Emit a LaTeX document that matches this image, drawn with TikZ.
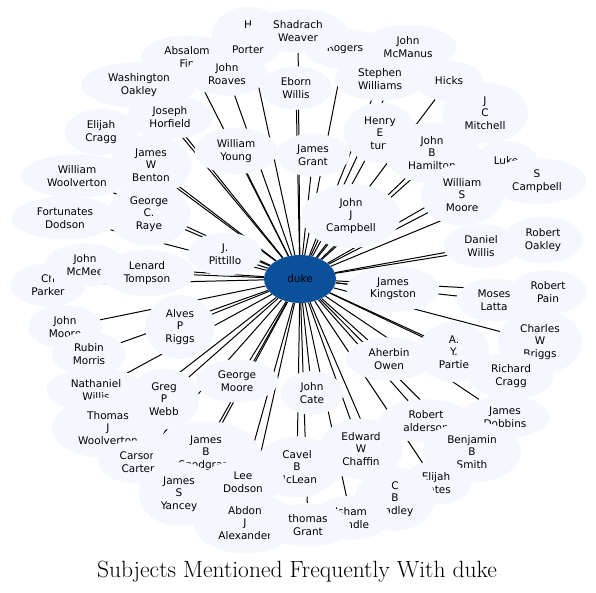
\documentclass[tikz,border=0pt]{standalone}
\usepackage{fontspec}
\usepackage{tikz}
\usetikzlibrary{shapes.geometric, backgrounds}
\newfontfamily\namefont{DejaVu Sans}
\definecolor{namefill}{RGB}{244,248,254}
\definecolor{dukeblue}{RGB}{11,80,155}

\begin{document}
\begin{tikzpicture}[x=1pt, y=-1pt]
    % Define styles for the nodes
    \tikzstyle{person} = [
        ellipse, fill=namefill, align=center, inner xsep=10pt,
        inner ysep=5pt, minimum width=60pt, minimum height=40pt,
        font=\namefont\fontsize{10.5}{12.5}\selectfont
    ]
    \tikzstyle{hub} = [
        ellipse, fill=dukeblue, minimum width=72pt, minimum height=48pt,
        font=\namefont\fontsize{10.5}{12.5}\selectfont
    ]
    \tikzstyle{link} = [line width=1pt, black]

    \useasboundingbox (0,0) rectangle (596,593);

    % Outer ring, top
    \node[person] (hporter) at (248,37) {H\\\mbox{}\\Porter};
    \node[person] (mcmanus) at (408,47) {John\\McManus};
    \node[person] (rogers) at (345,49) {Rogers};
    \node[person] (shadrach) at (298,31) {Shadrach\\Weaver};
    \node[person] (absalom) at (187,57) {Absalom\\Fin};
    \node[person] (washington) at (139,85) {Washington\\Oakley};
    \node[person] (roaves) at (227,74) {John\\Roaves};
    \node[person] (eborn) at (296,88) {Eborn\\Willis};
    \node[person] (hicks) at (449,81) {Hicks};
    \node[person] (stephen) at (380,79) {Stephen\\Williams};
    \node[person] (mitchell) at (485,113) {J\\C\\Mitchell};
    \node[person] (elijahcragg) at (101,132) {Elijah\\Cragg};
    \node[person] (joseph) at (170,117) {Joseph\\Horfield};
    \node[person] (henry) at (380,133) {Henry\\E\\turr};

    % Left side
    \node[person] (wwoolverton) at (77,176) {William\\Woolverton};
    \node[person] (benton) at (151,165) {James\\W\\Benton};
    \node[person] (wyoung) at (236,151) {William\\Young};
    \node[person] (jgrant) at (313,155) {James\\Grant};
    \node[person] (fortunates) at (65,218) {Fortunates\\Dodson};
    \node[person] (raye) at (149,214) {George\\C.\\Raye};
    \node[person] (parker) at (48,285) {Ch\\Parker};
    \node[person] (mcmee) at (85,265) {John\\McMee};
    \node[person] (tompson) at (147,273) {Lenard\\Tompson};
    \node[person] (pittillo) at (225,254) {J.\\Pittillo};
    \node[person] (jmoore) at (65,327) {John\\Moore};
    \node[person] (riggs) at (180,327) {Alves\\P\\Riggs};
    \node[person] (rmorris) at (89,354) {Rubin\\Morris};
    \node[person] (nwillis) at (96,390) {Nathaniel\\Willis};
    \node[person] (twoolverton) at (108,428) {Thomas\\J\\Woolverton};
    \node[person] (webb) at (164,399) {Greg\\P\\Webb};

    % Right side
    \node[person] (luke) at (506,161) {Luke};
    \node[person] (scampbell) at (537,181) {S\\Campbell};
    \node[person] (hamilton) at (432,153) {John\\B\\Hamilton};
    \node[person] (wsmoore) at (462,195) {William\\S\\Moore};
    \node[person] (jjcampbell) at (351,216) {John\\J\\Campbell};
    \node[person] (roakley) at (543,240) {Robert\\Oakley};
    \node[person] (dwillis) at (481,246) {Daniel\\Willis};
    \node[person] (rpain) at (548,292) {Robert\\Pain};
    \node[person] (latta) at (494,300) {Moses\\Latta};
    \node[person] (kingston) at (393,289) {James\\Kingston};
    \node[person] (briggs) at (540,342) {Charles\\W\\Briggs};
    \node[person] (partie) at (454,352) {A.\\Y.\\Partie};
    \node[person] (owen) at (389,359) {Aherbin\\Owen};
    \node[person] (rcragg) at (511,376) {Richard\\Cragg};
    \node[person] (dobbins) at (505,417) {James\\Dobbins};

    % Bottom
    \node[person] (gmoore) at (237,381) {George\\Moore};
    \node[person] (cate) at (312,393) {John\\Cate};
    \node[person] (alderson) at (426,421) {Robert\\alderson};
    \node[person] (smith) at (472,452) {Benjamin\\B\\Smith};
    \node[person] (chaffin) at (361,449) {Edward\\W\\Chaffin};
    \node[person] (carter) at (138,462) {Carson\\Carter};
    \node[person] (snodgrass) at (206,453) {James\\B\\Snodgrass};
    \node[person] (mclean) at (297,467) {Cavel\\B\\McLean};
    \node[person] (cates) at (436,483) {Elijah\\Cates};
    \node[person] (dodson) at (243,482) {Lee\\Dodson};
    \node[person] (yancey) at (179,494) {James\\S\\Yancey};
    \node[person] (dley) at (395,499) {C\\B\\Hadley};
    \node[person] (isham) at (351,518) {Isham\\Randle};
    \node[person] (alexander) at (245,523) {Abdon\\J\\Alexander};
    \node[person] (tgrant) at (308,525) {thomas\\Grant};

    % Hub
    \node[hub] (duke) at (300,279) {duke};

    % Links from the hub
    \begin{scope}[on background layer]
    \draw[link] (duke) -- (hporter);
    \draw[link] (duke) -- (shadrach);
    \draw[link] (duke) -- (rogers);
    \draw[link] (duke) -- (mcmanus);
    \draw[link] (duke) -- (absalom);
    \draw[link] (duke) -- (roaves);
    \draw[link] (duke) -- (washington);
    \draw[link] (duke) -- (eborn);
    \draw[link] (duke) -- (stephen);
    \draw[link] (duke) -- (hicks);
    \draw[link] (duke) -- (mitchell);
    \draw[link] (duke) -- (joseph);
    \draw[link] (duke) -- (elijahcragg);
    \draw[link] (duke) -- (henry);
    \draw[link] (duke) -- (wyoung);
    \draw[link] (duke) -- (jgrant);
    \draw[link] (duke) -- (hamilton);
    \draw[link] (duke) -- (luke);
    \draw[link] (duke) -- (scampbell);
    \draw[link] (duke) -- (benton);
    \draw[link] (duke) -- (wwoolverton);
    \draw[link] (duke) -- (wsmoore);
    \draw[link] (duke) -- (raye);
    \draw[link] (duke) -- (jjcampbell);
    \draw[link] (duke) -- (fortunates);
    \draw[link] (duke) -- (dwillis);
    \draw[link] (duke) -- (roakley);
    \draw[link] (duke) -- (pittillo);
    \draw[link] (duke) -- (mcmee);
    \draw[link] (duke) -- (tompson);
    \draw[link] (duke) -- (parker);
    \draw[link] (duke) -- (kingston);
    \draw[link] (duke) -- (rpain);
    \draw[link] (duke) -- (latta);
    \draw[link] (duke) -- (jmoore);
    \draw[link] (duke) -- (riggs);
    \draw[link] (duke) -- (briggs);
    \draw[link] (duke) -- (rmorris);
    \draw[link] (duke) -- (owen);
    \draw[link] (duke) -- (partie);
    \draw[link] (duke) -- (gmoore);
    \draw[link] (duke) -- (cate);
    \draw[link] (duke) -- (nwillis);
    \draw[link] (duke) -- (webb);
    \draw[link] (duke) -- (rcragg);
    \draw[link] (duke) -- (twoolverton);
    \draw[link] (duke) -- (alderson);
    \draw[link] (duke) -- (dobbins);
    \draw[link] (duke) -- (chaffin);
    \draw[link] (duke) -- (snodgrass);
    \draw[link] (duke) -- (smith);
    \draw[link] (duke) -- (carter);
    \draw[link] (duke) -- (mclean);
    \draw[link] (duke) -- (dodson);
    \draw[link] (duke) -- (cates);
    \draw[link] (duke) -- (yancey);
    \draw[link] (duke) -- (dley);
    \draw[link] (duke) -- (alexander);
    \draw[link] (duke) -- (tgrant);
    \draw[link] (duke) -- (isham);
    \end{scope}

    % Title
    \node[font=\fontsize{23.5}{27}\selectfont] (title) at (297,572)
        {Subjects Mentioned Frequently With duke};
\end{tikzpicture}
\end{document}
